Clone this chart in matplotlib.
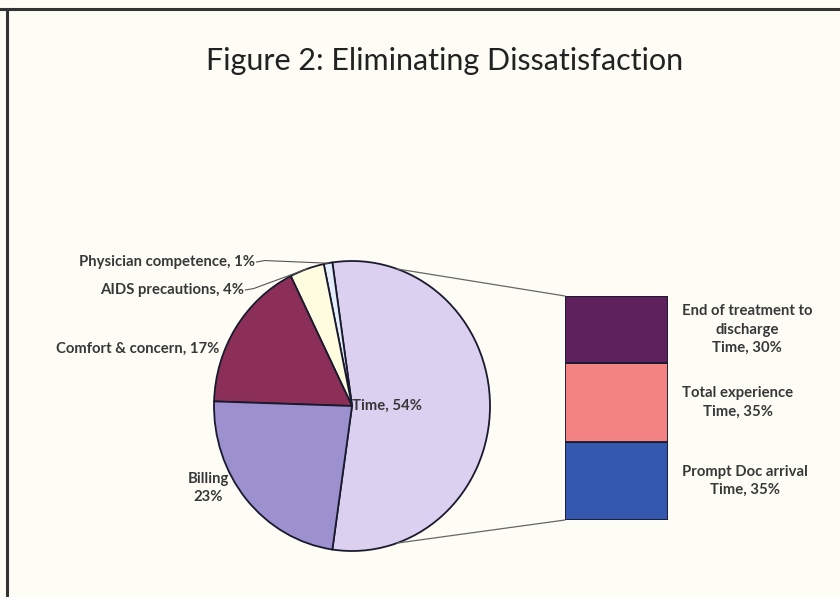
import numpy as np
import matplotlib
matplotlib.use("Agg")
import matplotlib.pyplot as plt
from matplotlib.patches import ConnectionPatch
from matplotlib.lines import Line2D

plt.rcParams['font.family'] = ['Lato', 'DejaVu Sans']

# pie data (counter-clockwise from Time)
pie_labels = ["Time", "Physician competence", "AIDS precautions", "Comfort & concern", "Billing"]
pie_values = [54, 1, 4, 17, 23]
pie_colors = ["#dcd0f0", "#e4eefa", "#fffce0", "#8c2f58", "#9d90cf"]

# bar breakdown of Time (bottom to top)
bar_labels = ["Prompt Doc arrival\nTime", "Total experience\nTime", "End of treatment to\ndischarge\nTime"]
bar_values = [35, 35, 30]
bar_colors = ["#3358ad", "#f38383", "#5e215e"]

title = "Figure 2: Eliminating Dissatisfaction"

W, H = 840, 597
fig = plt.figure(figsize=(W / 100, H / 100), dpi=100)
fig.patch.set_facecolor("#fdfdf6")

# frame lines (top and left)
fig.add_artist(Line2D([0, 1], [1 - 8.5 / H, 1 - 8.5 / H], color="#333333", lw=2.2))
fig.add_artist(Line2D([6.5 / W, 6.5 / W], [0, 1 - 8.5 / H], color="#333333", lw=2.2))

fig.text(445 / W, 1 - 61 / H, title, ha="center", va="center", fontsize=22, color="#222222")

# pie axes, slightly elliptical like the original
cx, cy, rx, ry = 352, 406, 138, 145
ax = fig.add_axes([(cx - rx) / W, (H - cy - ry) / H, 2 * rx / W, 2 * ry / H])
time_share = pie_values[0] / sum(pie_values) * 360
wedges, _ = ax.pie(pie_values, colors=pie_colors, startangle=-time_share / 2, counterclock=True,
                   wedgeprops=dict(edgecolor="#1a1a2e", linewidth=1.3), radius=1)
ax.set_aspect("auto")
ax.set_xlim(-1, 1)
ax.set_ylim(-1, 1)
ax.axis("off")

txt = dict(fontsize=10.7, color="#383838", fontweight="bold")

ax.text(0.0, 0.0, f"{pie_labels[0]}, {pie_values[0]}%", ha="left", va="center", **txt)

# outside labels with leader lines
label_pos = {1: (255, 262), 2: (244, 290)}
for i, (px, py) in label_pos.items():
    w = wedges[i]
    ang = np.deg2rad((w.theta1 + w.theta2) / 2)
    ex, ey = np.cos(ang), np.sin(ang)
    tx, ty = (px - cx) / rx, (cy - py) / ry
    ax.text(tx, ty, f"{pie_labels[i]}, {pie_values[i]}%", ha="right", va="center", **txt)
    ax.plot([tx + 0.01, tx + 0.07, ex], [ty, ty + 0.01, ey], color="#555555", lw=0.8, clip_on=False)

ax.text((219 - cx) / rx, (cy - 349) / ry, f"{pie_labels[3]}, {pie_values[3]}%",
        ha="right", va="center", **txt)
ax.text((208 - cx) / rx, (cy - 488) / ry, f"{pie_labels[4]}\n{pie_values[4]}%",
        ha="center", va="center", linespacing=1.4, **txt)

# stacked bar of the Time breakdown
bx0, bx1, by0, by1 = 565, 668, 296, 520
bax = fig.add_axes([bx0 / W, (H - by1) / H, (bx1 - bx0) / W, (by1 - by0) / H])
bottom = 0
for lab, val, col in zip(bar_labels, bar_values, bar_colors):
    bax.bar(0, val, bottom=bottom, width=1, color=col, edgecolor="#1a1a2e", linewidth=1.3)
    bax.text((682 - bx0) / (bx1 - bx0), bottom + val / 2, f"{lab}, {val}%",
             transform=bax.get_yaxis_transform(), ha="left", va="center",
             multialignment="center", linespacing=1.4, **txt)
    bottom += val
bax.set_xlim(-0.5, 0.5)
bax.set_ylim(0, sum(bar_values))
bax.axis("off")

# connector lines from pie to bar
for ang, yb in [(71, sum(bar_values)), (-71, 0)]:
    a = np.deg2rad(ang)
    con = ConnectionPatch(xyA=(np.cos(a), np.sin(a)), coordsA=ax.transData,
                          xyB=(-0.5, yb), coordsB=bax.transData,
                          color="#666666", lw=0.9)
    fig.add_artist(con)

fig.savefig("out.png", dpi=100, facecolor=fig.get_facecolor())
